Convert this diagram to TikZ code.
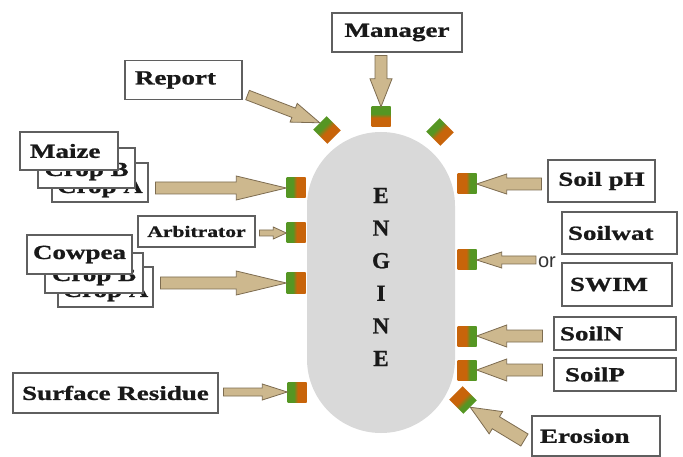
\documentclass[tikz,border=0pt]{standalone}
\usepackage{fontspec}
\setmainfont{Liberation Serif}
\newfontfamily\lblfont[FakeStretch=1.35, FakeBold=1]{Liberation Serif Bold}
\newfontfamily\engfont[FakeBold=1]{Liberation Serif Bold}
\newfontfamily\orfont{Liberation Sans}
\usetikzlibrary{calc}
\definecolor{enginegrey}{RGB}{217,217,217}
\definecolor{portorange}{RGB}{200,100,10}
\definecolor{portgreen}{RGB}{85,150,35}
\definecolor{arrowfill}{RGB}{205,184,142}
\definecolor{arrowline}{RGB}{125,108,80}
\definecolor{boxline}{RGB}{95,95,95}
\definecolor{textcol}{RGB}{25,25,25}
\pgfdeclarehorizontalshading{portshade}{100bp}{color(0bp)=(portorange); color(48bp)=(portorange); color(58bp)=(portgreen); color(100bp)=(portgreen)}
\newcommand{\blockarrow}[5]{%
  \coordinate (ba) at (#1);
  \coordinate (bb) at (#2);
  \coordinate (bh) at ($(bb)!#5pt!(ba)$);
  \filldraw[barrow] ($(ba)!#3pt!90:(bb)$) -- ($(bh)!#3pt!90:(bb)$) -- ($(bh)!#4pt!90:(bb)$) -- (bb)
     -- ($(bh)!#4pt!-90:(bb)$) -- ($(bh)!#3pt!-90:(bb)$) -- ($(ba)!#3pt!-90:(bb)$) -- cycle;
}
\begin{document}
\begin{tikzpicture}[x=1pt,y=-1pt,
  lbox/.style={draw=boxline, line width=1.1pt, fill=white, text=textcol,
    font=\lblfont\fontsize{20}{22}\selectfont, inner ysep=0pt, inner xsep=0pt},
  port/.style={minimum width=19, minimum height=20, inner sep=0pt, shade, shading=portshade},
  barrow/.style={fill=arrowfill, draw=arrowline, line width=0.8pt, line join=miter},
  engine/.style={fill=enginegrey, draw=none, minimum width=148, minimum height=301, rounded corners=74pt, inner sep=0pt}]
\fill[white] (0,0) rectangle (683,457);
\useasboundingbox (0,0) rectangle (683,457);

% engine body
\node[engine] (engine) at (381,282.5) {};
\node[font=\engfont\fontsize{23}{32.6}\selectfont, align=center, text=textcol, inner sep=0pt] (engtxt) at (381,277) {E\\N\\G\\I\\N\\E};

% ports
\node[port, rotate=45, shading angle=135] (pRep) at (327,130) {};
\node[port, shading angle=90] (pMan) at (381,117) {};
\node[port, rotate=45, shading angle=135] (pTR) at (440,132) {};
\node[port, shading angle=180] (pMaize) at (296,188) {};
\node[port, shading angle=180] (pArb) at (296,233) {};
\node[port, shading angle=180] (pCow) at (296,283) {};
\node[port, shading angle=180] (pSR) at (297,392) {};
\node[port] (pPH) at (467,184) {};
\node[port] (pWat) at (467,260) {};
\node[port] (pN) at (467,336) {};
\node[port] (pP) at (467,370) {};
\node[port, rotate=45, shading angle=-45] (pEro) at (463,400) {};

% boxes
\node[lbox, minimum width=130, minimum height=39] (manager) at (397,32.5) {Manager};
\node[lbox, minimum height=39, inner xsep=10pt, text width=97pt, align=left] (report) at (183.5,80) {Report};

\node[lbox, minimum width=96, minimum height=39, text height=21pt, text depth=0pt] (cropA) at (100,182.5) {Crop A};
\node[lbox, minimum width=97, minimum height=40, text height=16pt, text depth=0pt] (cropB) at (86.5,168) {Crop B};
\node[lbox, minimum height=38, inner xsep=10pt, text width=78pt, align=left] (maize) at (69,151) {Maize};

\node[lbox, minimum width=117, minimum height=31, font=\lblfont\fontsize{16}{18}\selectfont] (arb) at (196.5,231.5) {Arbitrator};

\node[lbox, minimum width=95, minimum height=40, text height=20pt, text depth=0pt] (cropAtwo) at (105.5,287) {Crop A};
\node[lbox, minimum width=98, minimum height=40, text height=16pt, text depth=0pt] (cropBtwo) at (94,273) {Crop B};
\node[lbox, minimum width=105, minimum height=39] (cowpea) at (79.5,254.5) {Cowpea};

\node[lbox, minimum width=205, minimum height=40] (sr) at (115.5,393) {Surface Residue};

\node[lbox, minimum width=107, minimum height=42] (soilph) at (601.5,181) {Soil pH};
\node[lbox, minimum height=42, inner xsep=6pt, text width=103pt, align=left] (soilwat) at (619.5,233) {Soilwat};
\node[lbox, minimum height=43, inner xsep=8pt, text width=94pt, align=left] (swim) at (617,284.5) {SWIM};
\node[lbox, minimum height=33, inner xsep=6pt, text width=110pt, align=left] (soiln) at (615,333.5) {SoilN};
\node[lbox, minimum height=33, inner xsep=11pt, text width=100pt, align=left] (soilp) at (615,374.5) {SoilP};
\node[lbox, minimum height=40, inner xsep=8pt, text width=112pt, align=left] (erosion) at (596,436) {Erosion};

\node[font=\orfont\fontsize{20}{22}\selectfont, text=black!80, inner sep=0pt] (ortext) at (547,262) {or};

% block arrows
\blockarrow{$(pMan.north |- manager.south)+(0,3)$}{pMan.north}{6}{11}{28}
\blockarrow{$(report.south east)+(5,-5)$}{pRep.north}{5}{10}{28}
\blockarrow{$(cropA.east |- pMaize)+(7,0)$}{pMaize.west}{6}{12}{50}
\blockarrow{$(arb.east |- pArb)+(4,0)$}{pArb.west}{3}{6}{13}
\blockarrow{$(cropAtwo.east |- pCow)+(7,0)$}{pCow.west}{6}{12}{50}
\blockarrow{$(sr.east |- pSR)+(5,0)$}{pSR.west}{4}{8}{25}
\blockarrow{$(soilph.west |- pPH)+(-6,0)$}{pPH.east}{6}{10}{30}
\blockarrow{$(ortext.west |- pWat)+(-2,0)$}{pWat.east}{4}{8}{25}
\blockarrow{$(soiln.west |- pN)+(-11,0)$}{pN.east}{6}{11}{30}
\blockarrow{$(soilp.west |- pP)+(-11,0)$}{pP.east}{6}{11}{30}
\blockarrow{$(erosion.west)+(-7,4)$}{pEro.south}{7}{13}{30}
\end{tikzpicture}
\end{document}
